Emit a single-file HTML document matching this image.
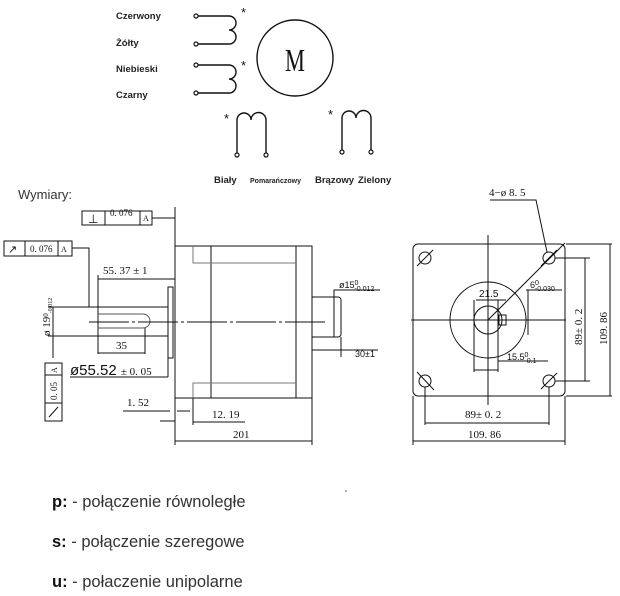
<!DOCTYPE html>
<html><head><meta charset="utf-8"><style>
html,body{margin:0;padding:0;background:#fff;width:620px;height:596px;overflow:hidden}
svg{display:block}
.s{font-family:"Liberation Sans","DejaVu Sans",sans-serif}
.m{font-family:"Liberation Serif",serif}
</style></head><body>
<svg width="620" height="596" viewBox="0 0 620 596" xmlns="http://www.w3.org/2000/svg">
<g fill="none" stroke="#111" stroke-width="1.4">
<path d="M197 16 H229 a7 7 0 0 1 0 14 a7 7 0 0 1 0 14 H197"/>
<path d="M197 65 H229 a7 7 0 0 1 0 14 a7 7 0 0 1 0 14 H197"/>
<circle cx="295" cy="58" r="38"/>
<path d="M237 153 V120 a7 7 0 0 1 14 0 a7.5 7.5 0 0 1 15 0 V153"/>
<path d="M342 153 V118 a7 7 0 0 1 14 0 a7.5 7.5 0 0 1 15 0 V153"/>
</g>
<g fill="#fff" stroke="#111" stroke-width="1.2">
<circle cx="196" cy="16" r="2"/><circle cx="196" cy="44" r="2"/>
<circle cx="196" cy="65" r="2"/><circle cx="196" cy="93" r="2"/>
<circle cx="237" cy="155" r="2"/><circle cx="266" cy="155" r="2"/>
<circle cx="342" cy="152" r="2"/><circle cx="371" cy="152" r="2"/>
</g>
<g class="s" font-size="13" fill="#111">
<text x="241" y="17">*</text><text x="241" y="70">*</text>
<text x="224" y="123">*</text><text x="328" y="119">*</text>
</g>
<text x="295" y="71" class="m" font-size="32" text-anchor="middle" fill="#111" transform="translate(295 71) scale(0.7 1) translate(-295 -71)">M</text>
<g class="s" font-size="9.5" font-weight="bold" fill="#222">
<text x="116" y="19">Czerwony</text><text x="116" y="46">Żółty</text>
<text x="116" y="72">Niebieski</text><text x="116" y="98">Czarny</text>
<text x="214" y="183">Biały</text><text x="250" y="183" font-size="7">Pomarańczowy</text>
<text x="315" y="183">Brązowy</text><text x="358" y="183">Zielony</text>
</g>
<text x="18" y="199" class="s" font-size="13" fill="#333">Wymiary:</text>

<g fill="none" stroke="#111" stroke-width="1">
<line x1="175" y1="207" x2="175" y2="445"/>
<rect x="175" y="246" width="137" height="152"/>
<line x1="211" y1="246" x2="211" y2="398"/>
<line x1="296" y1="246" x2="296" y2="398"/>
<polyline points="193,246 193,263 296,263" stroke="#777"/>
<polyline points="193,398 193,383 296,383" stroke="#777"/>
<rect x="168" y="287" width="5" height="71"/>
<rect x="98" y="307" width="70" height="29"/>
<path d="M98 314 H143 a7 7 0 0 1 0 14 H98" stroke="#555"/>
<path d="M312 297 H338 a3 3 0 0 1 3 3 V334 a3 3 0 0 1 -3 3 H312"/>
<line x1="334" y1="297" x2="334" y2="337"/>
<line x1="89" y1="322" x2="327" y2="322" stroke-dasharray="40 3 3 3"/>
<rect x="82" y="211" width="70" height="14"/><line x1="105" y1="211" x2="105" y2="225"/><line x1="140" y1="211" x2="140" y2="225"/>
<line x1="152" y1="218" x2="175" y2="218"/>
<rect x="4" y="241" width="68" height="15"/><line x1="25" y1="241" x2="25" y2="256"/><line x1="58" y1="241" x2="58" y2="256"/>
<polyline points="72,248 89,248 89,307"/>
<rect x="45" y="363" width="17" height="58"/><line x1="45" y1="375" x2="62" y2="375"/><line x1="45" y1="403" x2="62" y2="403"/>
<line x1="53" y1="307" x2="53" y2="358"/>
<line x1="48" y1="307" x2="98" y2="307"/><line x1="48" y1="336" x2="98" y2="336"/>
<line x1="98" y1="275" x2="98" y2="307"/><line x1="98" y1="279" x2="175" y2="279"/>
<line x1="145" y1="328" x2="145" y2="354"/><line x1="98" y1="336" x2="98" y2="354"/><line x1="98" y1="353" x2="145" y2="353"/>
<line x1="70" y1="377" x2="168" y2="377"/><line x1="168" y1="358" x2="168" y2="377"/>
<line x1="123" y1="411" x2="170" y2="411"/><line x1="177" y1="411" x2="190" y2="411"/>
<line x1="160" y1="421" x2="175" y2="421"/>
<line x1="193" y1="398" x2="193" y2="425"/><line x1="193" y1="422" x2="245" y2="422"/>
<line x1="312" y1="398" x2="312" y2="445"/><line x1="175" y1="441" x2="312" y2="441"/>
<polyline points="334,297 334,290 380,290"/>
<line x1="341" y1="337" x2="341" y2="357"/><line x1="312" y1="350" x2="341" y2="350"/><line x1="341" y1="350" x2="378" y2="350"/>
<line x1="49" y1="417" x2="58" y2="407"/>
</g>
<g class="m" font-size="11" fill="#111">
<text x="110" y="216" font-size="9">0. 076</text><text x="143" y="221" font-size="8">A</text>
<text x="88" y="223" font-size="12">⊥</text>
<text x="30" y="252" font-size="9">0. 076</text><text x="61" y="252" font-size="8">A</text>
<text x="8" y="253" font-size="11">↗</text>
<text x="103" y="274">55. 37 ± 1</text>
<text x="116" y="349">35</text>
<text x="70" y="375" class="s" font-size="15">ø55.52 <tspan class="m" font-size="11">± 0. 05</tspan></text>
<text x="127" y="406">1. 52</text>
<text x="212" y="418">12. 19</text>
<text x="233" y="438">201</text>
<text x="339" y="288" class="s" font-size="9">ø15<tspan font-size="7" dy="-3">0</tspan><tspan font-size="7" dx="-4" dy="6">-0.012</tspan></text>
<text x="355" y="357" class="s" font-size="9">30±1</text>
<text transform="translate(50 336) rotate(-90)" font-size="11">ø 19<tspan font-size="7" dy="-2">0</tspan><tspan font-size="6" dy="4">-0.012</tspan></text>
<text transform="translate(57 400) rotate(-90)" font-size="9">0. 05</text>
<text transform="translate(57 373) rotate(-90)" font-size="8">A</text>
</g>

<g fill="none" stroke="#111" stroke-width="1">
<rect x="413" y="244" width="152" height="152" rx="5"/>
<line x1="411" y1="320" x2="566" y2="320"/>
<line x1="488" y1="235" x2="488" y2="405"/>
<circle cx="488" cy="320" r="38"/>
<circle cx="488" cy="320" r="14"/>
<rect x="499" y="315" width="7" height="10"/>
<circle cx="549" cy="258" r="6"/><circle cx="425" cy="258" r="6"/>
<circle cx="549" cy="381" r="6"/><circle cx="425" cy="381" r="6"/>
<line x1="541" y1="266" x2="557" y2="250"/><line x1="417" y1="266" x2="433" y2="250"/>
<line x1="417" y1="372" x2="434" y2="390"/><line x1="541" y1="389" x2="557" y2="373"/>
<line x1="488" y1="320" x2="565" y2="243"/>
<polyline points="490,200 536,200 547,252"/>
<line x1="555" y1="258" x2="590" y2="258"/><line x1="555" y1="381" x2="590" y2="381"/><line x1="585" y1="258" x2="585" y2="381"/>
<line x1="566" y1="244" x2="612" y2="244"/><line x1="566" y1="396" x2="612" y2="396"/><line x1="610" y1="244" x2="610" y2="396"/>
<line x1="425" y1="387" x2="425" y2="425"/><line x1="549" y1="387" x2="549" y2="425"/><line x1="425" y1="423" x2="549" y2="423"/>
<line x1="413" y1="396" x2="413" y2="445"/><line x1="565" y1="396" x2="565" y2="445"/><line x1="413" y1="441" x2="565" y2="441"/>
<line x1="474" y1="300" x2="474" y2="372"/><line x1="498" y1="300" x2="498" y2="372"/>
<line x1="476" y1="300" x2="506" y2="300"/><line x1="474" y1="370" x2="498" y2="370"/>
<line x1="498" y1="361" x2="548" y2="361"/>
<polyline points="530,290 528,290 528,335"/><line x1="526" y1="290" x2="562" y2="290"/>
</g>
<g class="m" font-size="11" fill="#111">
<text x="489" y="196">4−ø 8. 5</text>
<text x="479" y="297" class="s" font-size="10">21.5</text>
<text x="530" y="288" class="s" font-size="9">6<tspan font-size="7" dy="-3">0</tspan><tspan font-size="7" dx="-4" dy="6">-0.030</tspan></text>
<text x="507" y="360" class="s" font-size="9">15.5<tspan font-size="7" dy="-3">0</tspan><tspan font-size="7" dx="-4" dy="6">-0.1</tspan></text>
<text x="465" y="418">89± 0. 2</text>
<text x="468" y="438">109. 86</text>
<text transform="translate(582 345) rotate(-90)">89± 0. 2</text>
<text transform="translate(607 345) rotate(-90)">109. 86</text>
</g>
<circle cx="346" cy="491" r="0.8" fill="#555"/>

<g class="s" font-size="16.5" fill="#333">
<text x="52" y="507"><tspan font-weight="bold" fill="#111">p:</tspan> - połączenie równoległe</text>
<text x="52" y="547"><tspan font-weight="bold" fill="#111">s:</tspan> - połączenie szeregowe</text>
<text x="52" y="587"><tspan font-weight="bold" fill="#111">u:</tspan> - połaczenie unipolarne</text>
</g>
</svg>
</body></html>
